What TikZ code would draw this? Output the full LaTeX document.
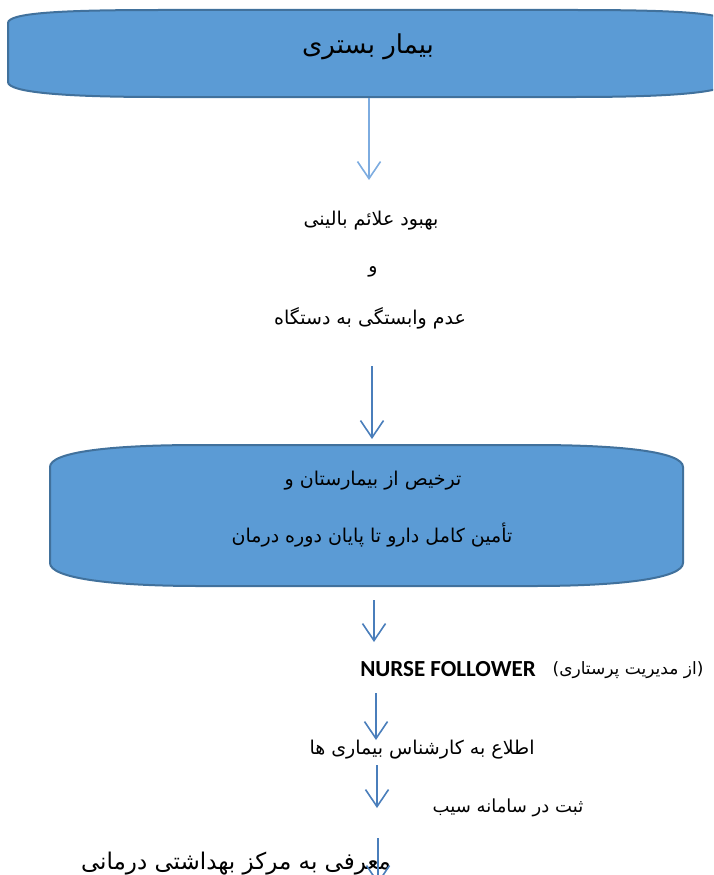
\documentclass[tikz,border=0pt]{standalone}
\usepackage{fontspec}
\setmainfont{DejaVu Sans}
\newfontfamily\fafont[Script=Arabic]{DejaVu Sans}
\newfontfamily\calfont{Carlito}
\TeXXeTstate=1
\usetikzlibrary{arrows.meta}
\definecolor{boxfill}{RGB}{91,155,213}
\definecolor{boxline}{RGB}{65,113,156}
\definecolor{arrcol}{RGB}{74,126,187}
\definecolor{arrlight}{RGB}{125,172,224}
\newcommand{\fatext}[1]{{\fafont\beginR #1\endR}}
\begin{document}
\begin{tikzpicture}[x=1pt,y=-1pt,
  blobshape/.style={fill=boxfill,draw=boxline,line width=2pt},
  flowarrow/.style={draw=arrcol,line width=1.6pt,-{Straight Barb[length=17pt,width=23pt,line width=1.6pt]}},
  lightarrow/.style={flowarrow,draw=arrlight},
  txt/.style={inner sep=0pt,font=\fontsize{19}{23}\selectfont},
  bigtxt/.style={inner sep=0pt,font=\fontsize{26}{30}\selectfont},
  midtxt/.style={inner sep=0pt,font=\fontsize{23}{27}\selectfont}]
\useasboundingbox (0,0) rectangle (713,875);
\clip (0,0) rectangle (713,875);
% top shape
\draw[blobshape] (8,82) -- (8,23) .. controls (8,13) and (60,10) .. (160,10) -- (576,10)
  .. controls (676,10) and (728,13) .. (728,23) -- (728,82)
  .. controls (728,92) and (676,97) .. (576,97) -- (160,97)
  .. controls (60,97) and (8,92) .. (8,82) -- cycle;
% second shape
\draw[blobshape] (50,563) -- (50,467) .. controls (50,452) and (110,445) .. (200,445) -- (533,445)
  .. controls (623,445) and (683,452) .. (683,467) -- (683,563)
  .. controls (683,578) and (623,586) .. (533,586) -- (200,586)
  .. controls (110,586) and (50,578) .. (50,563) -- cycle;
% texts
\node[bigtxt] (t1) at (368,47) {\fatext{بیمار بستری}};
\node[txt] (t2) at (371,221) {\fatext{بهبود علائم بالینی}};
\node[txt] (t3) at (373,272) {\fatext{و}};
\node[txt] (t4) at (370,318) {\fatext{عدم وابستگی به دستگاه}};
\node[txt] (t5) at (373,481) {\fatext{ترخیص از بیمارستان و}};
\node[txt] (t6) at (372,535) {\fatext{تأمین کامل دارو تا پایان دوره درمان}};
\node[inner sep=0pt,font=\calfont\bfseries\fontsize{23}{27}\selectfont] (t7a) at (448,669) {NURSE FOLLOWER};
\node[inner sep=0pt,font=\fontsize{17}{21}\selectfont] (t7b) at (628,670) {(\fatext{از مدیریت پرستاری})};
\node[txt] (t8) at (422,750) {\fatext{اطلاع به کارشناس بیماری ها}};
\node[inner sep=0pt,font=\fontsize{18}{22}\selectfont] (t9) at (508,808) {\fatext{ثبت در سامانه سیب}};
\node[midtxt] (t10) at (236,864) {\fatext{معرفی به مرکز بهداشتی درمانی}};
% arrow end points
\coordinate (a1s) at (369,98);  \coordinate (a1e) at (369,180);
\coordinate (a2s) at (372,366); \coordinate (a2e) at (372,439);
\coordinate (a3s) at (374,600); \coordinate (a3e) at (374,642);
\coordinate (a4s) at (376,693); \coordinate (a4e) at (376,740);
\coordinate (a5s) at (377,765); \coordinate (a5e) at (377,808);
\coordinate (a6s) at (378,838); \coordinate (a6e) at (378,884);
\draw[lightarrow] (a1s) -- (a1e);
\draw[flowarrow] (a2s) -- (a2e);
\draw[flowarrow] (a3s) -- (a3e);
\draw[flowarrow] (a4s) -- (a4e);
\draw[flowarrow] (a5s) -- (a5e);
\draw[flowarrow] (a6s) -- (a6e);
\end{tikzpicture}
\end{document}
